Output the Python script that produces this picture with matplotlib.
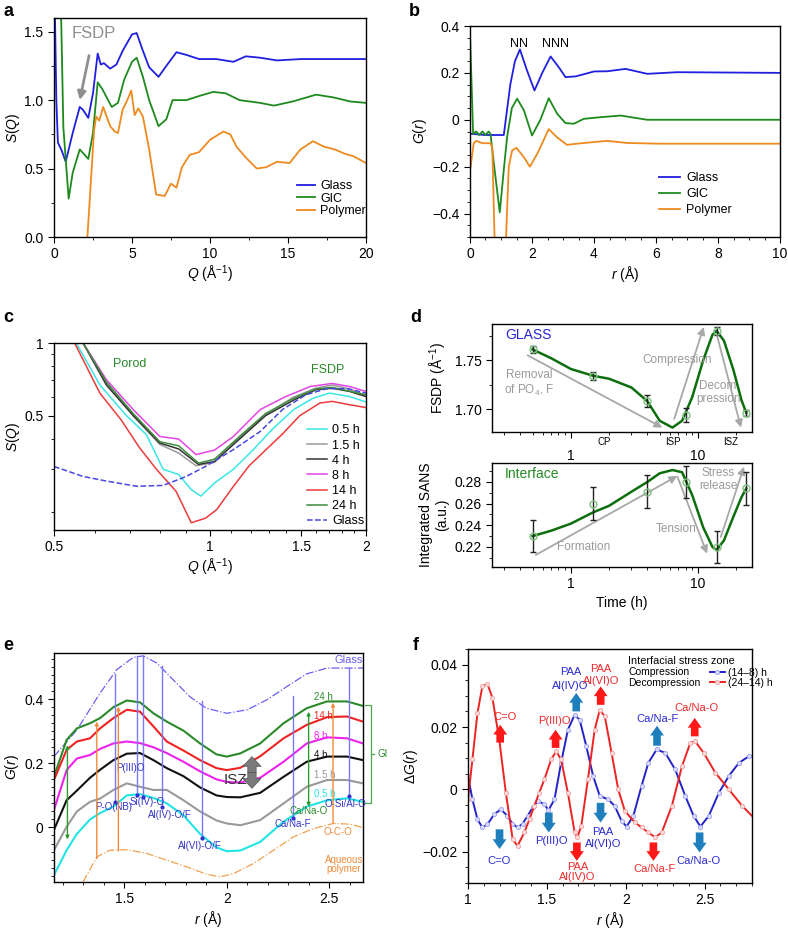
import matplotlib
matplotlib.use('Agg')
import matplotlib.pyplot as plt
from matplotlib.ticker import MultipleLocator, NullFormatter, LogLocator
import numpy as np

plt.rcParams.update({
    'font.family': ['Liberation Sans', 'DejaVu Sans'],
    'font.size': 10,
    'mathtext.fontset': 'custom',
    'mathtext.rm': 'Liberation Sans',
    'mathtext.it': 'Liberation Sans:italic',
    'mathtext.bf': 'Liberation Sans:bold',
    'axes.linewidth': 1.0,
    'xtick.major.size': 4, 'ytick.major.size': 4,
    'xtick.minor.size': 2, 'ytick.minor.size': 2,
    'xtick.labelsize': 10, 'ytick.labelsize': 10,
    'legend.frameon': False,
})

# ---- panel a: S(Q) ----
a_glass_q = [0.05, 0.15, 0.25, 0.5, 0.75, 1.2, 1.65, 1.85, 2.2, 2.5, 2.8, 3.0, 3.2, 3.6, 4.0, 4.4,
             5.0, 5.3, 5.7, 6.1, 6.7, 7.2, 7.85, 8.5, 9.3, 10.4, 11.5, 12.3, 13.2, 14.3, 15.8, 18.0, 20.0]
a_glass_s = [1.70, 1.00, 0.69, 0.63, 0.55, 0.76, 0.95, 0.93, 0.87, 1.05, 1.34, 1.26, 1.27, 1.23, 1.26, 1.36,
             1.48, 1.49, 1.36, 1.24, 1.17, 1.25, 1.35, 1.33, 1.30, 1.30, 1.28, 1.32, 1.31, 1.29, 1.30, 1.30, 1.30]
a_gic_q = [0.45, 0.6, 0.94, 1.2, 1.65, 2.2, 2.5, 2.8, 3.1, 3.7, 4.1, 4.5, 5.0, 5.3, 5.7, 6.1, 6.7, 7.2,
           7.6, 8.5, 9.3, 10.2, 11.0, 11.9, 13.2, 14.1, 15.3, 16.8, 17.9, 19.0, 20.0]
a_gic_s = [1.65, 0.80, 0.28, 0.47, 0.64, 0.57, 0.76, 1.13, 1.08, 0.95, 0.98, 1.15, 1.28, 1.31, 1.17, 1.00,
           0.81, 0.86, 1.00, 1.00, 1.03, 1.06, 1.05, 1.00, 0.98, 0.96, 0.99, 1.04, 1.02, 0.99, 0.98]
a_poly_q = [2.14, 2.57, 2.7, 2.9, 3.15, 3.6, 3.9, 4.1, 4.4, 4.7, 4.95, 5.17, 5.4, 5.7, 6.1, 6.55, 7.1,
            7.5, 7.85, 8.2, 8.7, 9.3, 10.0, 10.85, 11.3, 11.7, 12.3, 13.0, 13.6, 14.3, 15.1, 15.8, 16.6,
            17.3, 18.0, 18.6, 19.2, 20.0]
a_poly_s = [0.0, 0.78, 0.88, 0.85, 0.95, 0.81, 0.77, 0.76, 0.93, 1.0, 1.07, 0.89, 0.94, 0.88, 0.64, 0.31,
            0.30, 0.39, 0.36, 0.51, 0.60, 0.62, 0.71, 0.77, 0.75, 0.66, 0.58, 0.50, 0.51, 0.55, 0.54, 0.64,
            0.70, 0.66, 0.64, 0.61, 0.59, 0.54]

# ---- panel b: G(r) ----
b_glass_r = [0.05, 0.5, 1.09, 1.3, 1.45, 1.61, 1.84, 2.08, 2.33, 2.6, 2.87, 3.08, 3.41, 4.0, 4.43, 5.02, 5.72, 6.69, 10.0]
b_glass_g = [-0.06, -0.065, -0.065, 0.15, 0.25, 0.30, 0.21, 0.125, 0.20, 0.27, 0.223, 0.182, 0.185, 0.206, 0.207,
             0.217, 0.196, 0.203, 0.20]
b_gic_r = [0.0, 0.1, 0.2, 0.3, 0.4, 0.5, 0.6, 0.66, 0.8, 0.96, 1.1, 1.2, 1.35, 1.52, 1.74, 2.0, 2.27, 2.54,
           2.81, 3.08, 3.35, 3.67, 4.21, 4.86, 5.72, 10.0]
b_gic_g = [0.37, -0.06, -0.05, -0.065, -0.05, -0.065, -0.05, -0.06, -0.22, -0.395, -0.2, -0.07, 0.05, 0.09,
           0.04, -0.067, 0.0, 0.092, 0.026, -0.014, -0.017, 0.004, 0.011, 0.018, 0.0, 0.0]
b_poly_r = [0.0, 0.12, 0.2, 0.4, 0.66, 0.72, 0.8, 0.95, 1.15, 1.25, 1.36, 1.5, 1.74, 1.93, 2.17, 2.54, 2.81,
            3.13, 3.45, 4.0, 4.43, 5.08, 6.15, 10.0]
b_poly_g = [-0.22, -0.10, -0.09, -0.10, -0.10, -0.12, -0.55, -0.9, -0.55, -0.2, -0.13, -0.12, -0.16, -0.20,
            -0.145, -0.04, -0.075, -0.107, -0.102, -0.095, -0.09, -0.099, -0.102, -0.102]

# ---- panel c: low-Q S(Q) vs time ----
c_labels = ['0.5 h', '1.5 h', '4 h', '8 h', '14 h', '24 h']
c_q = {
    '0.5 h': [0.552, 0.613, 0.69, 0.754, 0.812, 0.87, 0.92, 0.96, 1.02, 1.11, 1.21, 1.32, 1.45, 1.58, 1.70, 1.86, 2.0],
    '1.5 h': [0.569, 0.631, 0.711, 0.80, 0.87, 0.94, 1.02, 1.14, 1.28, 1.45, 1.60, 1.72, 1.86, 2.0],
    '4 h': [0.569, 0.631, 0.711, 0.80, 0.87, 0.95, 1.02, 1.14, 1.28, 1.45, 1.60, 1.72, 1.86, 2.0],
    '8 h': [0.569, 0.631, 0.711, 0.80, 0.87, 0.94, 1.02, 1.11, 1.25, 1.40, 1.56, 1.72, 1.86, 2.0],
    '14 h': [0.548, 0.613, 0.674, 0.73, 0.788, 0.86, 0.92, 0.98, 1.03, 1.11, 1.19, 1.28, 1.38, 1.49, 1.63, 1.72, 1.86, 2.0],
    '24 h': [0.569, 0.631, 0.711, 0.80, 0.87, 0.95, 1.02, 1.14, 1.28, 1.45, 1.60, 1.72, 2.0],
}
c_s = {
    '0.5 h': [1.0, 0.67, 0.50, 0.417, 0.30, 0.285, 0.247, 0.232, 0.263, 0.30, 0.36, 0.44, 0.53, 0.59, 0.62, 0.60, 0.57],
    '1.5 h': [1.0, 0.68, 0.50, 0.38, 0.35, 0.31, 0.32, 0.405, 0.505, 0.597, 0.65, 0.67, 0.645, 0.605],
    '4 h': [1.0, 0.67, 0.50, 0.385, 0.364, 0.314, 0.323, 0.40, 0.50, 0.58, 0.64, 0.65, 0.63, 0.60],
    '8 h': [1.0, 0.705, 0.53, 0.41, 0.40, 0.345, 0.36, 0.41, 0.53, 0.60, 0.66, 0.68, 0.66, 0.63],
    '14 h': [1.0, 0.62, 0.48, 0.37, 0.30, 0.243, 0.18, 0.188, 0.204, 0.255, 0.31, 0.36, 0.42, 0.50, 0.564, 0.573, 0.555, 0.54],
    '24 h': [1.0, 0.69, 0.51, 0.39, 0.375, 0.318, 0.33, 0.41, 0.51, 0.59, 0.645, 0.655, 0.61],
}
c_glass_q = [0.5, 0.569, 0.631, 0.721, 0.812, 0.90, 0.98, 1.108, 1.25, 1.38, 1.53, 1.68, 1.84, 2.0]
c_glass_s = [0.308, 0.280, 0.268, 0.255, 0.257, 0.28, 0.308, 0.361, 0.43, 0.53, 0.61, 0.647, 0.647, 0.62]

# ---- panel d: FSDP position and integrated SANS vs time ----
d_time = [0.5, 1.5, 4, 8, 14, 24]
d_fsdp = [1.761, 1.734, 1.708, 1.694, 1.780, 1.696]
d_fsdp_err = [0.004, 0.004, 0.006, 0.007, 0.004, 0.003]
d_sans = [0.230, 0.260, 0.271, 0.280, 0.220, 0.274]
d_sans_err = [0.015, 0.015, 0.015, 0.015, 0.015, 0.015]
d_fit_t = [0.5, 0.7, 1.0, 1.5, 2.0, 3.0, 4.0, 5.0, 6.3, 7.5, 9.0, 11.0, 13.0, 14.0, 16.0, 19.0, 22.0, 24.0]
d_fsdp_fit = [1.761, 1.752, 1.741, 1.734, 1.731, 1.722, 1.708, 1.688, 1.681, 1.688, 1.712, 1.750, 1.776,
              1.780, 1.770, 1.740, 1.709, 1.696]
d_sans_fit = [0.230, 0.235, 0.2415, 0.252, 0.258, 0.271, 0.280, 0.288, 0.291, 0.289, 0.268, 0.238, 0.220,
              0.217, 0.226, 0.248, 0.266, 0.274]

# ---- panel e: G(r) vs time ----
e_r = [1.158, 1.22, 1.27, 1.334, 1.383, 1.448, 1.513, 1.578, 1.643, 1.708, 1.789, 1.87, 1.95, 2.0, 2.066,
       2.163, 2.277, 2.39, 2.489, 2.586, 2.664]
e_curves = {
    '24 h': [0.158, 0.273, 0.309, 0.325, 0.341, 0.375, 0.396, 0.390, 0.356, 0.330, 0.302, 0.262, 0.228, 0.221,
             0.231, 0.262, 0.325, 0.372, 0.393, 0.393, 0.379],
    '14 h': [0.148, 0.242, 0.268, 0.278, 0.309, 0.341, 0.367, 0.361, 0.315, 0.268, 0.240, 0.210, 0.185, 0.179,
             0.186, 0.222, 0.278, 0.320, 0.344, 0.346, 0.330],
    '8 h': [0.054, 0.179, 0.215, 0.226, 0.245, 0.262, 0.268, 0.263, 0.250, 0.232, 0.205, 0.175, 0.150, 0.142,
            0.140, 0.155, 0.205, 0.262, 0.281, 0.278, 0.262],
    '4 h': [-0.008, 0.085, 0.115, 0.155, 0.180, 0.210, 0.230, 0.232, 0.210, 0.185, 0.160, 0.125, 0.100, 0.095,
            0.094, 0.108, 0.158, 0.205, 0.221, 0.221, 0.210],
    '1.5 h': [-0.071, 0.002, 0.050, 0.080, 0.090, 0.117, 0.1375, 0.127, 0.117, 0.117, 0.085, 0.050, 0.022, 0.0125,
              0.007, 0.023, 0.075, 0.127, 0.148, 0.148, 0.1375],
    '0.5 h': [-0.149, -0.071, -0.020, 0.025, 0.045, 0.065, 0.100, 0.104, 0.092, 0.075, 0.038, -0.020, -0.062,
              -0.074, -0.072, -0.045, 0.018, 0.065, 0.085, 0.091, 0.080],
}
e_glass_r = [1.158, 1.27, 1.383, 1.464, 1.546, 1.594, 1.66, 1.74, 1.82, 1.90, 2.0, 2.1, 2.196, 2.294, 2.39,
             2.489, 2.586, 2.664]
e_glass_g = [0.221, 0.304, 0.419, 0.492, 0.531, 0.535, 0.5125, 0.46, 0.408, 0.372, 0.356, 0.367, 0.398, 0.44,
             0.479, 0.497, 0.497, 0.497]
e_poly_r = [1.30, 1.367, 1.43, 1.513, 1.61, 1.708, 1.806, 1.903, 1.968, 2.033, 2.13, 2.228, 2.326, 2.424, 2.52,
            2.60, 2.664]
e_poly_g = [-0.17, -0.092, -0.071, -0.069, -0.081, -0.102, -0.123, -0.146, -0.154, -0.144, -0.1125, -0.071,
            -0.029, -0.003, 0.0125, 0.0104, 0.0]
# blue assignment lines: label, r, top, bottom, label position
e_bonds = [('P-O(NB)', 1.456, 0.48, 0.08, 1.451, 0.065),
           ('P(III)O', 1.562, 0.535, 0.101, 1.533, 0.186),
           ('Si(IV)-O', 1.591, 0.535, 0.096, 1.612, 0.080),
           ('Al(IV)-O/F', 1.684, 0.502, 0.065, 1.724, 0.039),
           ('Al(VI)-O/F', 1.879, 0.393, -0.034, 1.87, -0.058),
           ('Ca/Na-F', 2.323, 0.41, 0.028, 2.321, 0.012),
           ('O-Si/Al-O', 2.598, 0.497, 0.098, 2.58, 0.072)]
e_green_arrows = [(1.224, -0.0375, 0.257), (2.399, 0.065, 0.361)]
e_orange_arrows = [(1.367, -0.097, 0.33), (1.472, -0.073, 0.377), (2.518, 0.015, 0.389)]

# ---- panel f: difference G(r) ----
f_r1 = [1.0, 1.028, 1.06, 1.091, 1.123, 1.166, 1.208, 1.25, 1.282, 1.314, 1.346, 1.378, 1.41, 1.442, 1.484,
        1.51, 1.548, 1.59, 1.633, 1.676, 1.708, 1.75, 1.793, 1.835, 1.888, 1.93, 1.973, 2.005, 2.048, 2.1,
        2.143, 2.196, 2.25, 2.313, 2.377, 2.43, 2.473, 2.526, 2.59, 2.653, 2.717, 2.78, 2.81]
f_dg1 = [0.0043, -0.0032, -0.0096, -0.0122, -0.0112, -0.008, -0.0064, -0.0085, -0.0110, -0.0122, -0.0110,
         -0.0085, -0.0058, -0.0037, -0.0048, -0.0067, -0.0032, 0.0085, 0.0191, 0.0239, 0.0223, 0.0138, 0.0043,
         -0.0021, -0.0032, -0.0053, -0.0101, -0.0119, -0.0085, 0.0011, 0.0085, 0.0128, 0.0117, 0.0064,
         -0.0021, -0.0085, -0.0119, -0.0085, -0.0011, 0.0043, 0.0085, 0.0106, 0.0106]
f_r2 = [1.0, 1.028, 1.06, 1.091, 1.123, 1.155, 1.198, 1.24, 1.283, 1.314, 1.357, 1.39, 1.42, 1.452, 1.484,
        1.527, 1.559, 1.59, 1.633, 1.676, 1.693, 1.718, 1.76, 1.803, 1.835, 1.867, 1.91, 1.952, 1.994, 2.058,
        2.1, 2.143, 2.186, 2.228, 2.292, 2.356, 2.409, 2.44, 2.494, 2.568, 2.653, 2.738, 2.81]
f_dg2 = [-0.0032, 0.0096, 0.0245, 0.033, 0.0338, 0.0293, 0.016, -0.0011, -0.016, -0.0181, -0.0138, -0.0095,
         -0.0053, -0.001, 0.0032, 0.0096, 0.0122, 0.0096, -0.0011, -0.0138, -0.0154, -0.0117, 0.0032, 0.0191,
         0.0255, 0.0234, 0.0117, 0.0, -0.0069, -0.0106, -0.0122, -0.0138, -0.0154, -0.0138, -0.0053, 0.0074,
         0.0149, 0.0154, 0.0117, 0.0053, 0.0, -0.0053, -0.009]
# arrows: r, start, end, label, label r, label y (one or two lines)
f_blue_marks = [(1.200, -0.0128, -0.0191, 'C=O', 1.198, [-0.0229]),
                (1.512, -0.0074, -0.0138, 'P(III)O', 1.529, [-0.0165]),
                (1.686, 0.0250, 0.0309, 'PAA\nAl(IV)O', 1.65, [0.0376, 0.0333]),
                (1.840, -0.0043, -0.0106, 'PAA\nAl(VI)O', 1.856, [-0.0136, -0.0176]),
                (2.198, 0.0140, 0.0204, 'Ca/Na-F', 2.198, [0.0227]),
                (2.468, -0.0138, -0.0202, 'Ca/Na-O', 2.462, [-0.0229])]
f_red_marks = [(1.204, 0.0150, 0.0207, 'C=O', 1.236, [0.0233]),
               (1.555, 0.0133, 0.0191, 'P(III)O', 1.546, [0.0218]),
               (1.690, -0.0170, -0.0229, 'PAA\nAl(IV)O', 1.693, [-0.0250, -0.0282]),
               (1.841, 0.0271, 0.0330, 'PAA\nAl(VI)O', 1.841, [0.0385, 0.0348]),
               (2.175, -0.0170, -0.0229, 'Ca/Na-F', 2.181, [-0.0255]),
               (2.437, 0.0170, 0.0229, 'Ca/Na-O', 2.449, [0.0260])]

W, H = 788, 930


def px_axes(fig, l, t, r, b):
    return fig.add_axes([l / W, 1 - b / H, (r - l) / W, (b - t) / H])


def block_arrow(ax, x, y0, y1, color):
    ax.annotate('', xy=(x, y1), xytext=(x, y0),
                arrowprops=dict(arrowstyle='simple,head_length=0.7,head_width=1.0,tail_width=0.55',
                                fc=color, ec='none', mutation_scale=10, shrinkA=0, shrinkB=0))


def main():
    fig = plt.figure(figsize=(W / 100, H / 100), dpi=100)

    # panel labels
    for lab, x, y in [('a', 3, 12), ('b', 409, 12), ('c', 3, 318), ('d', 410, 317), ('e', 3, 645), ('f', 413, 645)]:
        fig.text(x / W, 1 - y / H, lab, fontsize=13, fontweight='bold', va='center', ha='left')

    # ---------------- a ----------------
    ax = px_axes(fig, 54, 18, 366, 237)
    ax.plot(a_glass_q, a_glass_s, color='#1f1fe0', lw=1.3, label='Glass')
    ax.plot(a_gic_q, a_gic_s, color='#1e8a1e', lw=1.3, label='GIC')
    ax.plot(a_poly_q, a_poly_s, color='#ee8a20', lw=1.3, label='Polymer')
    ax.set_xlim(0, 20)
    ax.set_ylim(0, 1.6)
    ax.set_xticks([0, 5, 10, 15, 20])
    ax.set_yticks([0, 0.5, 1.0, 1.5], labels=['0.0', '0.5', '1.0', '1.5'])
    ax.xaxis.set_minor_locator(MultipleLocator(2.5))
    ax.yaxis.set_minor_locator(MultipleLocator(0.25))
    ax.set_xlabel(r'$Q$ (Å$^{-1}$)', labelpad=2)
    ax.set_ylabel(r'$S$($Q$)', labelpad=2)
    ax.annotate('FSDP', xy=(1.65, 1.0), xytext=(2.55, 1.49), color='#8f8f8f', fontsize=12,
                ha='center', va='center',
                arrowprops=dict(arrowstyle='-|>', color='#8f8f8f', lw=2, mutation_scale=12,
                                shrinkA=9, shrinkB=0))
    ax.legend(loc='lower right', bbox_to_anchor=(1.0, 0.09), fontsize=9, handlelength=1.5,
              handletextpad=0.4, labelspacing=0.05, borderpad=0, borderaxespad=0)

    # ---------------- b ----------------
    ax = px_axes(fig, 470, 26, 780, 237)
    ax.plot(b_glass_r, b_glass_g, color='#1f1fe0', lw=1.3, label='Glass')
    ax.plot(b_gic_r, b_gic_g, color='#1e8a1e', lw=1.3, label='GIC')
    ax.plot(b_poly_r, b_poly_g, color='#ee8a20', lw=1.3, label='Polymer')
    ax.set_xlim(0, 10)
    ax.set_ylim(-0.5, 0.4)
    ax.set_xticks([0, 2, 4, 6, 8, 10])
    ax.set_yticks([-0.4, -0.2, 0, 0.2, 0.4], labels=['\u22120.4', '\u22120.2', '0', '0.2', '0.4'])
    ax.xaxis.set_minor_locator(MultipleLocator(0.5))
    ax.yaxis.set_minor_locator(MultipleLocator(0.05))
    ax.set_xlabel(r'$r$ (Å)', labelpad=2)
    ax.set_ylabel(r'$G$($r$)', labelpad=2)
    ax.text(1.58, 0.325, 'NN', fontsize=9, ha='center', va='center')
    ax.text(2.76, 0.325, 'NNN', fontsize=9, ha='center', va='center')
    ax.legend(loc='lower right', bbox_to_anchor=(0.845, 0.10), fontsize=9, handlelength=1.7,
              handletextpad=0.5, labelspacing=0.3, borderpad=0, borderaxespad=0)

    # ---------------- c ----------------
    ax = px_axes(fig, 54, 343, 366, 530)
    c_colors = {'0.5 h': '#3ae6e6', '1.5 h': '#9a9a9a', '4 h': '#333333', '8 h': '#e444e4',
                '14 h': '#ee3a3a', '24 h': '#3c8c3c'}
    for lab in c_labels:
        ax.plot(c_q[lab], c_s[lab], color=c_colors[lab], lw=1.1, label=lab)
    ax.plot(c_glass_q, c_glass_s, color='#4848e0', lw=1.1, ls='--', label='Glass')
    ax.set_xscale('log')
    ax.set_yscale('log')
    ax.set_xlim(0.5, 2)
    ax.set_ylim(0.168, 1)
    ax.set_xticks([0.5, 1, 1.5, 2], labels=['0.5', '1', '1.5', '2'])
    ax.set_xticks([0.6, 0.7, 0.8, 0.9, 1.1, 1.2, 1.3, 1.4, 1.6, 1.7, 1.8, 1.9], minor=True)
    ax.set_yticks([0.5, 1], labels=['0.5', '1'])
    ax.set_yticks([0.2, 0.3, 0.4, 0.6, 0.7, 0.8, 0.9], minor=True)
    ax.xaxis.set_minor_formatter(NullFormatter())
    ax.yaxis.set_minor_formatter(NullFormatter())
    ax.set_xlabel(r'$Q$ (Å$^{-1}$)', labelpad=2)
    ax.set_ylabel(r'$S$($Q$)', labelpad=2)
    ax.text(0.70, 0.815, 'Porod', color='#2a8a2a', fontsize=9, ha='center', va='center')
    ax.text(1.69, 0.775, 'FSDP', color='#2a8a2a', fontsize=9, ha='center', va='center')
    ax.legend(loc='lower right', bbox_to_anchor=(0.995, 0.015), fontsize=9, handlelength=1.6,
              handletextpad=0.4, labelspacing=0.25, borderpad=0, borderaxespad=0)

    # ---------------- d ----------------
    ax1 = px_axes(fig, 492, 324, 752, 432)
    ax2 = px_axes(fig, 492, 463, 752, 567)
    for ax, y, err, fit in [(ax1, d_fsdp, d_fsdp_err, d_fsdp_fit), (ax2, d_sans, d_sans_err, d_sans_fit)]:
        ax.plot(d_fit_t, fit, color='#0d6e0d', lw=1.8, zorder=3)
        ax.errorbar(d_time, y, yerr=err, fmt='none', ecolor='#222222', elinewidth=1.0, capsize=2, zorder=4)
        ax.plot(d_time, y, 'o', mfc='none', mec='#7fc07f', ms=5, mew=1.0, zorder=5)
        ax.set_xscale('log')
        ax.set_xlim(0.24, 26.6)
        ax.xaxis.set_minor_locator(LogLocator(subs=np.arange(2, 10)))
        ax.xaxis.set_minor_formatter(NullFormatter())
        ax.set_xticks([1, 10], labels=['1', '10'])
    gray = '#a8a8a8'
    tgray = '#9a9a9a'
    ap = dict(arrowstyle='-|>', color=gray, lw=1.3, mutation_scale=11, shrinkA=0, shrinkB=0)

    ax1.set_ylim(1.6765, 1.787)
    ax1.set_yticks([1.70, 1.75], labels=['1.70', '1.75'])
    ax1.yaxis.set_minor_locator(MultipleLocator(0.025))
    ax1.tick_params(axis='x', which='major', pad=8)
    ax1.set_ylabel('FSDP (Å$^{-1}$)', labelpad=4)
    ax1.text(0.305, 1.776, 'GLASS', color='#2424d8', fontsize=10, va='center')
    ax1.annotate('', xy=(5.25, 1.681), xytext=(0.457, 1.755), arrowprops=ap)
    ax1.annotate('', xy=(11.1, 1.784), xytext=(6.5, 1.69), arrowprops=ap)
    ax1.annotate('', xy=(21.8, 1.681), xytext=(14.2, 1.774), arrowprops=ap)
    ax1.text(0.47, 1.735, 'Removal', color=tgray, fontsize=8.5, ha='center', va='center')
    ax1.text(0.47, 1.719, 'of PO$_4$, F', color=tgray, fontsize=8.5, ha='center', va='center')
    ax1.text(6.9, 1.75, 'Compression', color=tgray, fontsize=8.5, ha='center', va='center')
    ax1.text(14.4, 1.724, 'Decom', color=tgray, fontsize=8.5, ha='center', va='center')
    ax1.text(14.4, 1.710, 'pression', color=tgray, fontsize=8.5, ha='center', va='center')
    tr = ax1.get_xaxis_transform()
    for lab, t in [('CP', 1.83), ('ISP', 6.4), ('ISZ', 18.0)]:
        ax1.text(t, -0.09, lab, transform=tr, fontsize=7, ha='center', va='center')

    ax2.set_ylim(0.2015, 0.2975)
    ax2.set_yticks([0.22, 0.24, 0.26, 0.28])
    ax2.yaxis.set_minor_locator(MultipleLocator(0.01))
    ax2.set_ylabel('Integrated SANS\n(a.u.)', labelpad=4)
    ax2.set_xlabel('Time (h)', labelpad=3)
    ax2.text(0.30, 0.2877, 'Interface', color='#248a24', fontsize=10, va='center')
    ax2.annotate('', xy=(6.88, 0.2855), xytext=(0.53, 0.2126), arrowprops=ap)
    ax2.annotate('', xy=(11.8, 0.2138), xytext=(6.88, 0.285), arrowprops=ap)
    ax2.annotate('', xy=(23.0, 0.294), xytext=(15.1, 0.2292), arrowprops=ap)
    ax2.text(1.25, 0.220, 'Formation', color=tgray, fontsize=8.5, ha='center', va='center')
    ax2.text(6.7, 0.237, 'Tension', color=tgray, fontsize=8.5, ha='center', va='center')
    ax2.text(14.4, 0.288, 'Stress', color=tgray, fontsize=8.5, ha='center', va='center')
    ax2.text(14.4, 0.2765, 'release', color=tgray, fontsize=8.5, ha='center', va='center')

    # ---------------- e ----------------
    ax = px_axes(fig, 54, 653, 363, 882)
    e_colors = {'24 h': '#2a8a2a', '14 h': '#ee2222', '8 h': '#ee22ee', '4 h': '#111111',
                '1.5 h': '#999999', '0.5 h': '#22e4e4'}
    ax.plot(e_glass_r, e_glass_g, color='#6a5ef0', lw=0.9, ls='-.')
    ax.plot(e_poly_r, e_poly_g, color='#f0a050', lw=0.9, ls='-.')
    for lab, g in e_curves.items():
        ax.plot(e_r, g, color=e_colors[lab], lw=1.5)
    label_y = {'24 h': 0.408, '14 h': 0.348, '8 h': 0.286, '4 h': 0.226, '1.5 h': 0.1635, '0.5 h': 0.103}
    for lab, y in label_y.items():
        ax.text(2.424, y, lab, color=e_colors[lab], fontsize=7, va='center', ha='left')
    for lab, r, top, bot, lx, ly in e_bonds:
        ax.plot([r, r], [bot, top], color='#7a7aff', lw=1.0)
        ax.plot([r], [bot], 'o', color='#3030d0', ms=2)
        ax.text(lx, ly, lab, color='#3434cc', fontsize=7, ha='center', va='center')
    for r, y0, y1 in e_green_arrows:
        ax.annotate('', xy=(r, y1), xytext=(r, y0),
                    arrowprops=dict(arrowstyle='<|-|>', color='#2f9a2f', lw=1.0, mutation_scale=5,
                                    shrinkA=0, shrinkB=0))
    for r, y0, y1 in e_orange_arrows:
        ax.annotate('', xy=(r, y1), xytext=(r, y0),
                    arrowprops=dict(arrowstyle='-|>', color='#f08a3a', lw=1.0, mutation_scale=5,
                                    shrinkA=0, shrinkB=0))
    ax.text(2.40, 0.051, 'Ca/Na-O', color='#2a8a2a', fontsize=7, ha='center', va='center')
    ax.text(2.54, -0.0135, 'O-C-O', color='#f08a3a', fontsize=7, ha='center', va='center')
    ax.text(2.57, -0.1, 'Aqueous', color='#f08a3a', fontsize=7, ha='center', va='center')
    ax.text(2.57, -0.131, 'polymer', color='#f08a3a', fontsize=7, ha='center', va='center')
    ax.text(2.594, 0.521, 'Glass', color='#6a5ef0', fontsize=8, ha='center', va='center')
    # ISZ double arrow
    mid = 0.1715
    for yend in (0.221, 0.122):
        ax.annotate('', xy=(2.123, yend), xytext=(2.123, mid),
                    arrowprops=dict(arrowstyle='simple,head_length=0.7,head_width=1.3,tail_width=0.6',
                                    fc='#7a7a7a', ec='#555555', lw=0.5, mutation_scale=10,
                                    shrinkA=0, shrinkB=0))
    ax.text(2.043, 0.148, 'ISZ', color='#333333', fontsize=11, ha='center', va='center')
    # GI bracket
    ax.plot([2.674, 2.701, 2.701, 2.674], [0.382, 0.382, 0.075, 0.075], color='#4caa4c', lw=0.9, clip_on=False)
    ax.plot([2.701, 2.716], [0.2285, 0.2285], color='#4caa4c', lw=0.9, clip_on=False)
    ax.text(2.735, 0.2285, 'GI', color='#2a8a2a', fontsize=7, va='center', ha='left', clip_on=False)
    ax.set_xlim(1.1585, 2.664)
    ax.set_ylim(-0.17, 0.544)
    ax.set_xticks([1.5, 2, 2.5], labels=['1.5', '2', '2.5'])
    ax.set_yticks([0, 0.2, 0.4], labels=['0', '0.2', '0.4'])
    ax.xaxis.set_minor_locator(MultipleLocator(0.1))
    ax.yaxis.set_minor_locator(MultipleLocator(0.025))
    ax.set_xlabel(r'$r$ (Å)', labelpad=2)
    ax.set_ylabel(r'$G$($r$)', labelpad=2)

    # ---------------- f ----------------
    ax = px_axes(fig, 468, 649, 752, 883)
    l1, = ax.plot(f_r1, f_dg1, color='#2323c8', lw=1.4, marker='o', ms=3, mfc='#dcdcff', mec='#9c9cf0',
                  mew=0.6, label='(14\u20138) h')
    l2, = ax.plot(f_r2, f_dg2, color='#ee2323', lw=1.4, marker='o', ms=3, mfc='#ffdcdc', mec='#f0a0a0',
                  mew=0.6, label='(24\u201314) h')
    for r, y0, y1, lab, lx, lys in f_blue_marks:
        block_arrow(ax, r, y0, y1, '#1f7fbd')
        for line, ly in zip(lab.split('\n'), lys):
            ax.text(lx, ly, line, color='#2a2ad0', fontsize=8, ha='center', va='center')
    for r, y0, y1, lab, lx, lys in f_red_marks:
        block_arrow(ax, r, y0, y1, '#ff1818')
        for line, ly in zip(lab.split('\n'), lys):
            ax.text(lx, ly, line, color='#ee2a2a', fontsize=8, ha='center', va='center')
    ax.text(0.564, 0.95, 'Interfacial stress zone', transform=ax.transAxes, fontsize=7.8, va='center')
    ax.text(0.564, 0.900, 'Compression', transform=ax.transAxes, fontsize=7.5, va='center')
    ax.text(0.564, 0.853, 'Decompression', transform=ax.transAxes, fontsize=7.5, va='center')
    ax.legend(handles=[l1, l2], loc='center left', bbox_to_anchor=(0.852, 0.877), fontsize=7.5,
              handlelength=1.4, handletextpad=0.3, labelspacing=0.0, borderpad=0, borderaxespad=0)
    ax.set_xlim(1.0, 2.8)
    ax.set_ylim(-0.03, 0.045)
    ax.set_xticks([1, 1.5, 2, 2.5], labels=['1', '1.5', '2', '2.5'])
    ax.set_yticks([-0.02, 0, 0.02, 0.04], labels=['\u22120.02', '0', '0.02', '0.04'])
    ax.xaxis.set_minor_locator(MultipleLocator(0.1))
    ax.yaxis.set_minor_locator(MultipleLocator(0.005))
    ax.set_xlabel(r'$r$ (Å)', labelpad=2)
    ax.set_ylabel(r'$\Delta G$($r$)', labelpad=2)

    plt.savefig('out.png', dpi=100)
    plt.close()


if __name__ == '__main__':
    main()
